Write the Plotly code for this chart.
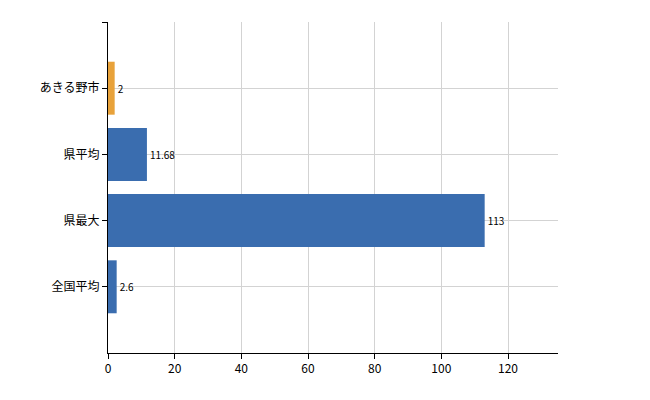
import plotly.graph_objects as go

categories = ["あきる野市", "県平均", "県最大", "全国平均"]
values = [2, 11.68, 113, 2.6]
labels = ["2", "11.68", "113", "2.6"]
colors = ["#E8A23A", "#3A6DAF", "#3A6DAF", "#3A6DAF"]

pos = list(range(len(categories)))
fig = go.Figure(go.Bar(
    x=values, y=pos, orientation="h", width=0.8,
    marker=dict(color=colors, line=dict(width=0)),
    text=labels, textposition="outside", cliponaxis=False,
    textfont=dict(size=10, color="#000000", family="Noto Sans CJK JP"),
))
fig.update_layout(
    width=650, height=400, margin=dict(l=100, r=100, t=14, b=55),
    plot_bgcolor="white", paper_bgcolor="white", showlegend=False,
    font=dict(family="Noto Sans CJK JP", size=12, color="#000000"),
)
fig.update_xaxes(range=[0, 135], tickvals=[0, 20, 40, 60, 80, 100, 120],
                 showgrid=True, gridcolor="#D3D3D3", showline=True, linecolor="#000000",
                 ticks="outside", ticklen=5, tickcolor="#000000", zeroline=False)
fig.update_yaxes(range=[4, -1], tickvals=[-1] + pos, ticktext=[""] + categories,
                 showgrid=True, gridcolor="#D3D3D3", showline=True, linecolor="#000000",
                 ticks="outside", ticklen=5, tickcolor="#000000", zeroline=False)
fig.write_html("out.html")
